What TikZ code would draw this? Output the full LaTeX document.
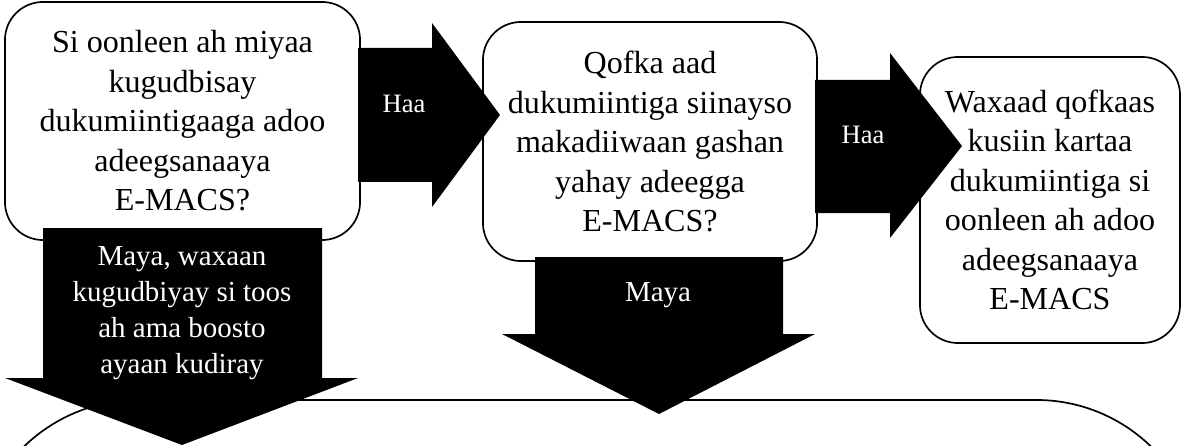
\documentclass[tikz,border=0pt]{standalone}
\usepackage{fontspec}
\setmainfont{Liberation Serif}
\usepackage{tikz}

\begin{document}
\begin{tikzpicture}[x=0.025cm,y=-0.025cm,
  qbox/.style={draw,line width=1.2pt,rounded corners=0.95cm,fill=white,align=center,inner sep=0pt,font=\fontsize{22.8}{28.1}\selectfont},
  blockarrow/.style={fill=black},
  blocklbl/.style={text=white,align=center,inner sep=0pt,font=\fontsize{20.6}{25.6}\selectfont},
  haalbl/.style={text=white,inner sep=0pt,font=\fontsize{18.9}{22}\selectfont}]
\useasboundingbox (0,0) rectangle (1183,446);
\begin{scope}
\clip (0,0) rectangle (1183,446);
\node[draw,line width=1.2pt,rounded corners=4.125cm,minimum width=30.675cm,minimum height=7.5cm] (q4) at (587.5,550) {};
\end{scope}
\node[qbox,minimum width=8.875cm,minimum height=5.95cm] (q1) at (182.5,121) {Si oonleen ah miyaa\\ kugudbisay\\ dukumiintigaaga adoo\\ adeegsanaaya\\ E-MACS?};
\node[qbox,minimum width=8.35cm,minimum height=5.975cm] (q2) at (650,141.5) {Qofka aad\\ dukumiintiga siinayso\\ makadiiwaan gashan\\ yahay adeegga\\ E-MACS?};
\node[qbox,minimum width=6.5cm,minimum height=7.15cm] (q3) at (1050,200) {Waxaad qofkaas\\ kusiin kartaa\\ dukumiintiga si\\ oonleen ah adoo\\ adeegsanaaya\\ E-MACS};
% block arrows
\fill[blockarrow] (358,48) -- (432,48) -- (432,23) -- (500,115) -- (432,207) -- (432,182) -- (358,182) -- cycle;
\fill[blockarrow] (815,80) -- (890,80) -- (890,53) -- (962,146) -- (890,238) -- (890,213) -- (815,213) -- cycle;
\fill[blockarrow] (43,228) -- (322,228) -- (322,378) -- (358,378) -- (182,445) -- (5,378) -- (43,378) -- cycle;
\fill[blockarrow] (535,257) -- (783,257) -- (783,334) -- (815,334) -- (659,414) -- (502,334) -- (535,334) -- cycle;
\node[haalbl] (yes1) at (404,104) {Haa};
\node[haalbl] (yes2) at (863,135) {Haa};
\node[blocklbl] (no1) at (182,313) {Maya, waxaan\\ kugudbiyay si toos\\ ah ama boosto\\ ayaan kudiray};
\node[blocklbl] (no2) at (658,295.5) {Maya};
\end{tikzpicture}
\end{document}
